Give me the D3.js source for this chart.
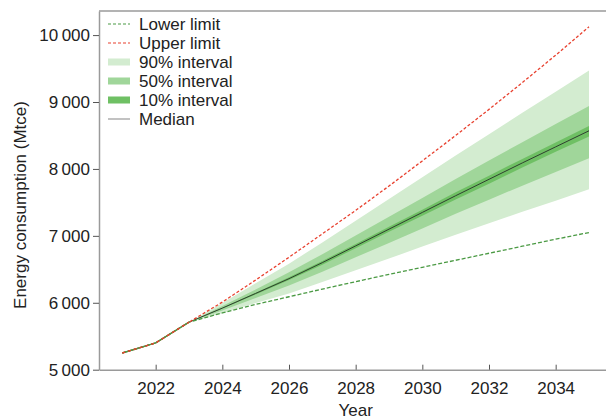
<!DOCTYPE html>
<html><head><meta charset="utf-8">
<script src="https://cdn.jsdelivr.net/npm/d3@7"></script>
<style>body{margin:0;background:#fff}svg{display:block;font-family:"Liberation Sans",Arial,sans-serif}</style>
</head><body><svg id="c" width="606" height="419"></svg>
<script>
const histYears = [2021, 2022, 2023];
const histValues = [5250, 5400, 5710];
const years = [2023,2024,2025,2026,2027,2028,2029,2030,2031,2032,2033,2034,2035];
const median = [5710,5920,6140,6360,6600,6850,7100,7350,7600,7845,8090,8330,8570];
const upperLimit = [5710,6010,6340,6680,7030,7380,7745,8120,8500,8890,9290,9700,10125];
const lowerLimit = [5710,5850,5975,6090,6205,6315,6425,6530,6635,6740,6845,6950,7050];
const p90Upper = [5710,5995,6290,6585,6900,7225,7550,7875,8200,8520,8840,9155,9470];
const p90Lower = [5710,5845,5995,6140,6310,6485,6660,6840,7015,7190,7360,7525,7695];
const p50Upper = [5710,5950,6200,6455,6725,7005,7285,7565,7850,8125,8400,8670,8940];
const p50Lower = [5710,5885,6070,6260,6465,6680,6895,7110,7330,7540,7750,7955,8160];
const p10Upper = [5710,5925,6150,6380,6625,6880,7135,7390,7650,7900,8150,8395,8640];
const p10Lower = [5710,5915,6125,6340,6570,6815,7060,7300,7545,7780,8020,8255,8485];
const xTicks = [2022,2024,2026,2028,2030,2032,2034];
const yTicks = [5000,6000,7000,8000,9000,10000];
const legendLabels = ["Lower limit","Upper limit","90% interval","50% interval","10% interval","Median"];

const svg = d3.select("#c");
const x = d3.scaleLinear().domain([2020.3, 2035.6]).range([99, 609]);
const y = d3.scaleLinear().domain([5000, 10360]).range([369.7, 11]);
const fmt = v => d3.format(",")(v).replace(",", "\u2009");
const axisCol = "#9a9a9a";
const C = {light:"#d3ecd0", mid:"#a0d69a", dark:"#6fc064", red:"#e8412f", green:"#4b9a44", med:"#2f3f2f"};

function band(lo, hi, col){
  const data = years.map((t,i)=>({t, lo:lo[i], hi:hi[i]}));
  svg.append("path").datum(data).attr("fill", col)
    .attr("d", d3.area().x(d=>x(d.t)).y0(d=>y(d.lo)).y1(d=>y(d.hi)));
}
band(p90Lower, p90Upper, C.light);
band(p50Lower, p50Upper, C.mid);
band(p10Lower, p10Upper, C.dark);

const line = d3.line().x(d=>x(d[0])).y(d=>y(d[1]));
const hist = histYears.map((t,i)=>[t, histValues[i]]);
const full = arr => hist.slice(0,2).concat(years.map((t,i)=>[t, arr[i]]));

svg.append("path").datum(full(median)).attr("fill","none").attr("stroke",C.med).attr("stroke-width",1).attr("d", line);
svg.append("path").datum(full(lowerLimit)).attr("fill","none").attr("stroke",C.green).attr("stroke-width",1.3).attr("stroke-dasharray","4,2").attr("d", line);
svg.append("path").datum(full(upperLimit)).attr("fill","none").attr("stroke",C.red).attr("stroke-width",1.3).attr("stroke-dasharray","3,2").attr("d", line);
// history overlay: alternating red/green dashes
svg.append("path").datum(hist).attr("fill","none").attr("stroke",C.green).attr("stroke-width",1.4).attr("d", line);
svg.append("path").datum(hist).attr("fill","none").attr("stroke",C.red).attr("stroke-width",1.4).attr("stroke-dasharray","3,3").attr("d", line);

// axes
const gx = svg.append("g").attr("transform","translate(0,369.7)")
  .call(d3.axisBottom(x).tickValues(xTicks).tickFormat(d3.format("d")).tickSizeInner(-5).tickSizeOuter(0).tickPadding(12));
const gy = svg.append("g").attr("transform","translate(99,0)")
  .call(d3.axisLeft(y).tickValues(yTicks).tickFormat(fmt).tickSizeInner(6).tickSizeOuter(0).tickPadding(3));
[gx, gy].forEach(g=>{
  g.select(".domain").attr("stroke", axisCol).attr("stroke-width",1.5);
  g.selectAll(".tick line").attr("stroke","#555").attr("stroke-width",1);
  g.selectAll(".tick text").attr("fill","#222").style("font-size","17px").style("font-family","'Liberation Sans',Arial,sans-serif");
});
svg.append("line").attr("x1",99).attr("x2",606).attr("y1",11).attr("y2",11).attr("stroke",axisCol).attr("stroke-width",1.5);

svg.append("text").attr("x", x(2028)).attr("y", 416).attr("text-anchor","middle")
  .attr("fill","#222").style("font-size","17px").text("Year");
svg.append("text").attr("transform","translate(26,205) rotate(-90)").attr("text-anchor","middle")
  .attr("fill","#222").style("font-size","17px").text("Energy consumption (Mtce)");

// legend
const lg = svg.append("g");
const ly0 = 24, ldy = 19;
legendLabels.forEach((lab,i)=>{
  const yy = ly0 + i*ldy;
  if (i===0) lg.append("line").attr("x1",108).attr("x2",130).attr("y1",yy).attr("y2",yy).attr("stroke",C.green).attr("stroke-width",1.2).attr("stroke-dasharray","3,2");
  else if (i===1) lg.append("line").attr("x1",108).attr("x2",130).attr("y1",yy).attr("y2",yy).attr("stroke",C.red).attr("stroke-width",1.2).attr("stroke-dasharray","3,2");
  else if (i<5) lg.append("rect").attr("x",108).attr("y",yy-3.5).attr("width",22).attr("height",7).attr("fill",[C.light,C.mid,C.dark][i-2]);
  else lg.append("line").attr("x1",108).attr("x2",130).attr("y1",yy).attr("y2",yy).attr("stroke","#999").attr("stroke-width",1.2);
  lg.append("text").attr("x",139).attr("y",yy).attr("dy","0.35em").attr("fill","#222").style("font-size","17px").text(lab);
});
</script></body></html>
